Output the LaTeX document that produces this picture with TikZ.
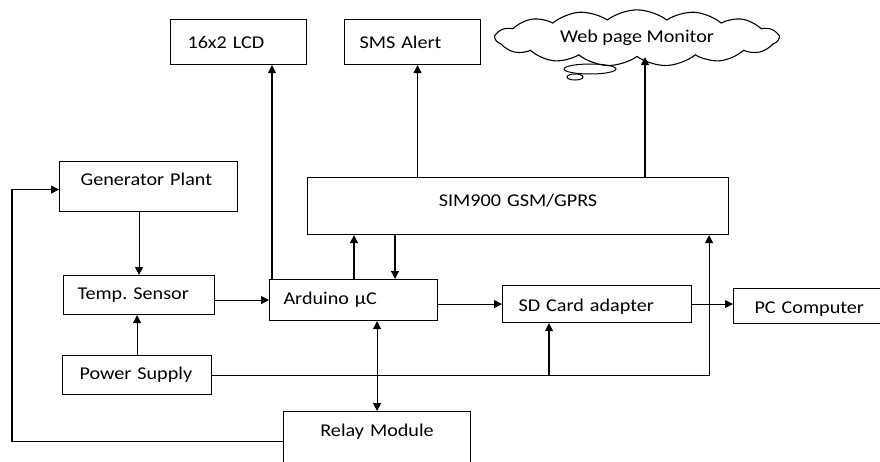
\documentclass[tikz,border=0pt]{standalone}
\usepackage{fontspec}
\setmainfont{Carlito}[FakeStretch=1.12]
\usetikzlibrary{arrows.meta,shapes.symbols}

\begin{document}
\begin{tikzpicture}[x=1pt,y=-1pt,
    blk/.style={draw,line width=1.1pt,anchor=north west,inner ysep=0pt,align=left,font=\fontsize{18}{21}\selectfont},
    link/.style={line width=1.1pt,-{Triangle[length=8pt,width=8pt]}},
    both/.style={line width=1.1pt,{Triangle[length=8pt,width=8pt]}-{Triangle[length=8pt,width=8pt]}}]
    \useasboundingbox (0,0) rectangle (880,461);
    \clip (0,0) rectangle (880,461);
    % outputs
    \node[blk,minimum height=45pt,inner xsep=17pt,text width=102pt] (lcd) at (170,19) {16x2 LCD};
    \node[blk,minimum height=45pt,inner xsep=15pt,text width=106pt] (sms) at (344,19) {SMS Alert};
    \node[cloud,draw,line width=1.1pt,cloud puffs=15,cloud puff arc=75,aspect=5.2,
        minimum width=283pt,minimum height=54pt,inner sep=0pt,font=\fontsize{18}{21}\selectfont] (web) at (637,38) {Web page Monitor};
    \draw[line width=1pt] (590,69) ellipse [x radius=26, y radius=5];
    \draw[line width=1pt] (575,77) ellipse [x radius=8, y radius=3];
    % blocks
    \node[blk,minimum height=50pt,inner xsep=21pt,text width=136pt,text depth=15pt] (gen) at (59,161) {\mbox{Generator Plant}};
    \node[blk,minimum height=57pt,inner xsep=10pt,text width=401pt,align=center,text depth=12pt] (sim) at (307,177) {SIM900 GSM/GPRS};
    \node[blk,minimum height=39pt,inner xsep=14pt,text width=123pt] (temp) at (63,275) {Temp.\ Sensor};
    \node[blk,minimum height=41pt,inner xsep=14pt,text width=140pt] (ard) at (269,279) {Arduino μC};
    \node[blk,minimum height=37pt,inner xsep=16pt,text width=157pt,text height=18pt] (sd) at (502,285) {SD Card adapter};
    \node[blk,minimum height=35pt,inner xsep=21pt,text width=115pt,text height=17pt] (pc) at (733,288) {PC Computer};
    \node[blk,minimum height=39pt,inner xsep=17pt,text width=115pt] (pwr) at (62,355) {Power Supply};
    \node[blk,minimum height=60pt,inner xsep=10pt,text width=167pt,align=center,text depth=23pt] (relay) at (283,411) {Relay Module};
    % connections
    \draw[link] ([xshift=3pt]ard.north west) -- ([xshift=3pt]ard.north west |- lcd.south);
    \draw[link] ([xshift=5pt]sms.south |- sim.north) -- ([xshift=5pt]sms.south);
    \draw[link] ([xshift=8pt]web.south |- sim.north) -- ([xshift=8pt]web.south);
    \draw[link] (gen.south -| temp.north) -- (temp.north);
    \draw[link] (pwr.north) -- (pwr.north |- temp.south);
    \draw[link] (temp.east |- ard.west) -- (ard.west);
    \draw[link] ([xshift=85pt]ard.north west) -- ([xshift=85pt]ard.north west |- sim.south);
    \draw[link] ([xshift=126pt]ard.north west |- sim.south) -- ([xshift=126pt]ard.north west);
    \draw[link] (ard.east |- sd.west) -- (sd.west);
    \draw[link] (sd.east) -- (sd.east -| pc.west);
    \draw[both] (ard.south -| relay.north) -- (relay.north);
    \coordinate (sdin) at ([xshift=47pt]sd.south west);
    \draw[link] (pwr.east) -| ([xshift=-20pt]sim.south east);
    \draw[link] (pwr.east -| sdin) -- (sdin);
    \draw[link] (relay.west) -- ++(-271,0) |- ([yshift=-3pt]gen.west);
\end{tikzpicture}
\end{document}
